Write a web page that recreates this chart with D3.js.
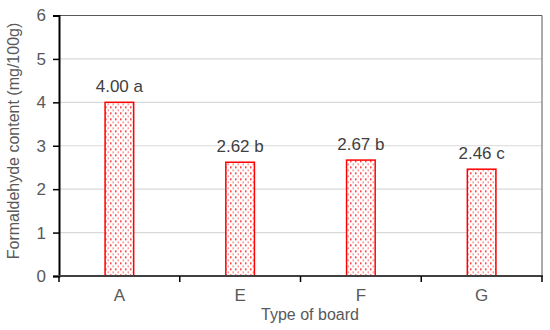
<!DOCTYPE html>
<html>
<head>
<meta charset="utf-8">
<script src="https://cdn.jsdelivr.net/npm/d3@7"></script>
<style>
  body { margin: 0; background: #fff; }
  text { font-family: Arial, "Liberation Sans", sans-serif; }
</style>
</head>
<body>
<div id="chart"></div>
<script>
var boards = ["A", "E", "F", "G"];
var contents = [4.00, 2.62, 2.67, 2.46];
var groups = ["a", "b", "b", "c"];
var yTicks = [0, 1, 2, 3, 4, 5, 6];

var W = 550, H = 330;
var margin = {top: 15.5, right: 8, bottom: 54, left: 59};
var iw = W - margin.left - margin.right;
var ih = H - margin.top - margin.bottom;

var svg = d3.select("#chart").append("svg")
    .attr("width", W)
    .attr("height", H);

// dotted fill like the original
var defs = svg.append("defs");
var pat = defs.append("pattern")
    .attr("id", "dots")
    .attr("patternUnits", "userSpaceOnUse")
    .attr("width", 5)
    .attr("height", 6);
pat.append("rect").attr("width", 5).attr("height", 6).attr("fill", "#fff");
pat.append("rect").attr("x", 1).attr("y", 1).attr("width", 1.5).attr("height", 1.5).attr("fill", "#f00");
pat.append("rect").attr("x", 3.5).attr("y", 4).attr("width", 1.5).attr("height", 1.5).attr("fill", "#f77");

var g = svg.append("g").attr("transform", "translate(" + margin.left + "," + margin.top + ")");

var x = d3.scaleBand().domain(boards).range([0, iw]);
var y = d3.scaleLinear().domain([0, 6]).range([ih, 0]);

// gridlines
g.selectAll(".grid").data(yTicks.slice(1, -1)).enter().append("line")
    .attr("x1", 0).attr("x2", iw)
    .attr("y1", function(d) { return y(d); })
    .attr("y2", function(d) { return y(d); })
    .attr("stroke", "#d9d9d9")
    .attr("stroke-width", 1.2);

// top and right frame
g.append("path")
    .attr("d", "M0," + y(6) + "H" + iw + "V" + ih)
    .attr("fill", "none")
    .attr("stroke", "#595959")
    .attr("stroke-width", 1);

var barW = 28.6;
var data = boards.map(function(b, i) { return {board: b, value: contents[i], grp: groups[i]}; });

g.selectAll(".bar").data(data).enter().append("rect")
    .attr("x", function(d) { return x(d.board) + x.bandwidth() / 2 - barW / 2; })
    .attr("y", function(d) { return y(d.value); })
    .attr("width", barW)
    .attr("height", function(d) { return ih - y(d.value); })
    .attr("fill", "url(#dots)")
    .attr("stroke", "#f00")
    .attr("stroke-width", 1.5);

g.selectAll(".val").data(data).enter().append("text")
    .attr("x", function(d) { return x(d.board) + x.bandwidth() / 2; })
    .attr("y", function(d) { return y(d.value) - 10; })
    .attr("text-anchor", "middle")
    .attr("fill", "#404040")
    .style("font-size", "17px")
    .text(function(d) { return d.value.toFixed(2) + " " + d.grp; });

// y axis
var yAxis = g.append("g")
    .call(d3.axisLeft(y).tickValues(yTicks).tickSize(6).tickPadding(7).tickFormat(d3.format("d")));
yAxis.select(".domain").attr("stroke", "#000").attr("stroke-width", 2);
yAxis.selectAll(".tick line").attr("stroke", "#000").attr("stroke-width", 1.5);
yAxis.selectAll(".tick text").attr("fill", "#595959").style("font-size", "17px");

// x axis with ticks at band edges
var xAxis = g.append("g").attr("transform", "translate(0," + ih + ")");
xAxis.append("line")
    .attr("x1", -1).attr("x2", iw + 1)
    .attr("stroke", "#404040").attr("stroke-width", 2);
var edges = boards.map(function(b) { return x(b); }).concat([iw]);
xAxis.selectAll(".edge").data(edges).enter().append("line")
    .attr("x1", function(d) { return d; }).attr("x2", function(d) { return d; })
    .attr("y1", 0).attr("y2", 6)
    .attr("stroke", "#000").attr("stroke-width", 1.5);
xAxis.selectAll(".lab").data(boards).enter().append("text")
    .attr("x", function(d) { return x(d) + x.bandwidth() / 2; })
    .attr("y", 25)
    .attr("text-anchor", "middle")
    .attr("fill", "#595959")
    .style("font-size", "17px")
    .text(function(d) { return d; });

svg.append("text")
    .attr("x", 310)
    .attr("y", 320)
    .attr("text-anchor", "middle")
    .attr("fill", "#595959")
    .style("font-size", "16px")
    .text("Type of board");

svg.append("text")
    .attr("transform", "translate(19,141) rotate(-90)")
    .attr("text-anchor", "middle")
    .attr("fill", "#595959")
    .style("font-size", "16px")
    .text("Formaldehyde content (mg/100g)");
</script>
</body>
</html>
